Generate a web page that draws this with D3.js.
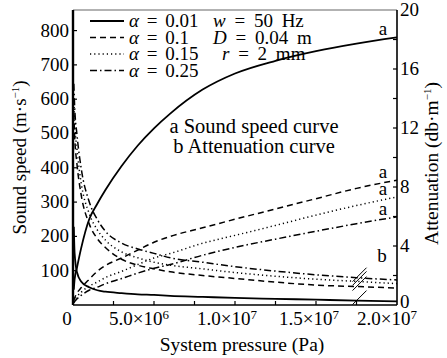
<!DOCTYPE html>
<html>
<head>
<meta charset="utf-8">
<script src="https://cdn.jsdelivr.net/npm/d3@7"></script>
<style>
  body { margin: 0; background: #fff; }
</style>
</head>
<body>
<script>
// pressure in MPa (x axis is drawn in Pa)
const pressure = [0.05, 0.1, 0.25, 0.5, 1, 1.5, 2, 3, 4, 5, 6, 8, 10, 12.5, 15, 17.5, 20];

// a: sound speed (m/s), left axis
const speed001 = [45, 75, 110, 165, 250, 295, 335, 405, 465, 515, 558, 628, 675, 712, 740, 762, 780];
const speed010 = [12, 20, 35, 50, 75, 98, 115, 137, 160, 183, 200, 225, 250, 280, 310, 340, 364];
const speed015 = [8, 14, 25, 37, 55, 67, 80, 98, 118, 137, 150, 180, 203, 232, 262, 290, 315];
const speed025 = [6, 10, 18, 28, 43, 52, 62, 77, 93, 107, 118, 145, 168, 192, 215, 237, 257];

// b: attenuation (db/m), right axis
const atten001 = [5.3, 3.5, 2.2, 1.6, 1.2, 1.0, 0.9, 0.8, 0.72, 0.68, 0.62, 0.55, 0.48, 0.42, 0.36, 0.3, 0.25];
const atten010 = [13, 11.5, 9.5, 7.5, 5.5, 4.5, 3.9, 3.1, 2.7, 2.45, 2.25, 2.0, 1.8, 1.55, 1.35, 1.25, 1.15];
const atten015 = [14, 12.5, 10.5, 8.3, 6.2, 5.1, 4.4, 3.6, 3.2, 2.9, 2.7, 2.45, 2.2, 1.95, 1.75, 1.6, 1.45];
const atten025 = [15, 13.5, 11.5, 9.3, 7, 5.8, 5.0, 4.2, 3.8, 3.5, 3.2, 2.9, 2.6, 2.3, 2.05, 1.85, 1.7];

const alphas = ["0.01", "0.1", "0.15", "0.25"];
const params = [["w", "= 50 Hz"], ["D", "= 0.04 m"], ["r", "= 2 mm"]];
const xTicks = [0, 5e6, 1e7, 1.5e7, 2e7];
const xTickLabels = [["0", ""], ["5.0×10", "6"], ["1.0×10", "7"], ["1.5×10", "7"], ["2.0×10", "7"]];
const leftTicks = [100, 200, 300, 400, 500, 600, 700, 800];
const rightTicks = [0, 4, 8, 12, 16, 20];

const W = 447, H = 358;
const m = { left: 73, right: 50, top: 10, bottom: 53 };
const FONT = "'Liberation Serif', 'Times New Roman', serif";

const x = d3.scaleLinear().domain([0, 2e7]).range([m.left, W - m.right]);
const yL = d3.scaleLinear().domain([0, 860]).range([H - m.bottom, m.top]);
const yR = d3.scaleLinear().domain([0, 20]).range([H - m.bottom, m.top]);

const dashes = [null, "6,4", "1.2,3", "7,3,1.5,3"];

const svg = d3.select("body").append("svg")
  .attr("width", W)
  .attr("height", H)
  .attr("font-family", FONT)
  .style("display", "block");

svg.append("clipPath").attr("id", "plot")
  .append("rect")
  .attr("x", m.left).attr("y", m.top)
  .attr("width", W - m.left - m.right)
  .attr("height", H - m.top - m.bottom);

const g = svg.append("g").attr("clip-path", "url(#plot)");

const lineL = d3.line().curve(d3.curveMonotoneX)
  .x((d, i) => x(pressure[i] * 1e6)).y(d => yL(d));
const lineR = d3.line().curve(d3.curveMonotoneX)
  .x((d, i) => x(pressure[i] * 1e6)).y(d => yR(d));

const speeds = [speed001, speed010, speed015, speed025];
const attens = [atten001, atten010, atten015, atten025];

speeds.forEach((s, i) => {
  g.append("path").attr("d", lineL(s))
    .attr("fill", "none").attr("stroke", "#000")
    .attr("stroke-width", i == 0 ? 1.8 : 1.5)
    .attr("stroke-dasharray", dashes[i]);
});
attens.forEach((s, i) => {
  g.append("path").attr("d", lineR(s))
    .attr("fill", "none").attr("stroke", "#000")
    .attr("stroke-width", i == 0 ? 1.8 : 1.5)
    .attr("stroke-dasharray", dashes[i]);
});

// little hatch of leaders from the b label to the b curves
const k = pressure.length - 2;
attens.forEach(s => {
  const px = x(pressure[k] * 1e6), py = yR(s[k]);
  svg.append("line")
    .attr("x1", px - 4).attr("y1", py + 4).attr("x2", px + 10).attr("y2", py - 10)
    .attr("stroke", "#000").attr("stroke-width", 1);
});

// frame
const x0 = x(0), x1 = x(2e7), y0 = yL(0), y1 = m.top;
svg.append("line").attr("x1", x0).attr("x2", x1).attr("y1", y1).attr("y2", y1)
  .attr("stroke", "#666").attr("stroke-width", 1.2);
svg.append("line").attr("x1", x0).attr("x2", x1).attr("y1", y0).attr("y2", y0)
  .attr("stroke", "#000").attr("stroke-width", 1.6);
svg.append("line").attr("x1", x0).attr("x2", x0).attr("y1", y1).attr("y2", y0)
  .attr("stroke", "#000").attr("stroke-width", 2.4);
svg.append("line").attr("x1", x1).attr("x2", x1).attr("y1", y1).attr("y2", y0)
  .attr("stroke", "#000").attr("stroke-width", 1.6);

// ticks (inward)
svg.selectAll(".xt").data(d3.range(2.5e6, 2e7, 2.5e6)).join("line")
  .attr("x1", d => x(d)).attr("x2", d => x(d))
  .attr("y1", y0).attr("y2", y0 - 4)
  .attr("stroke", "#000").attr("stroke-width", 1.2);
svg.selectAll(".lt").data(leftTicks).join("line")
  .attr("x1", x0).attr("x2", x0 + 4)
  .attr("y1", d => yL(d)).attr("y2", d => yL(d))
  .attr("stroke", "#000").attr("stroke-width", 1.2);
svg.selectAll(".rt").data(d3.range(2, 20, 2)).join("line")
  .attr("x1", x1).attr("x2", x1 - 4)
  .attr("y1", d => yR(d)).attr("y2", d => yR(d))
  .attr("stroke", "#000").attr("stroke-width", 1.2);

// tick labels
svg.selectAll(".ll").data(leftTicks).join("text")
  .attr("x", x0 - 4).attr("y", d => yL(d) + 6)
  .attr("text-anchor", "end").attr("font-size", 19)
  .text(d => d);
svg.selectAll(".rl").data(rightTicks).join("text")
  .attr("x", x1 + 3).attr("y", d => yR(d) + (d == 0 ? 3 : 6))
  .attr("text-anchor", "start").attr("font-size", 19)
  .text(d => d);
const xShift = [-6, -15, -8, -7, -10];
const xl = svg.selectAll(".xl").data(xTicks).join("text")
  .attr("x", (d, i) => x(d) + xShift[i]).attr("y", y0 + 20)
  .attr("text-anchor", "middle").attr("font-size", 19);
xl.append("tspan").text((d, i) => xTickLabels[i][0]);
xl.append("tspan").attr("dy", -6).attr("font-size", 13).text((d, i) => xTickLabels[i][1]);

// axis titles
svg.append("text")
  .attr("x", (x0 + x1) / 2 + 7).attr("y", H - 7)
  .attr("text-anchor", "middle").attr("font-size", 19.5)
  .text("System pressure (Pa)");

const ylab = svg.append("text")
  .attr("transform", `translate(26,${(y0 + y1) / 2}) rotate(-90)`)
  .attr("text-anchor", "middle").attr("font-size", 19);
ylab.append("tspan").text("Sound speed (m·s");
ylab.append("tspan").attr("dy", -7).attr("font-size", 11).text("−1");
ylab.append("tspan").attr("dy", 7).text(")");

const rlab = svg.append("text")
  .attr("transform", `translate(438,${(y0 + y1) / 2 + 6}) rotate(-90)`)
  .attr("text-anchor", "middle").attr("font-size", 19.5);
rlab.append("tspan").text("Attenuation (db·m");
rlab.append("tspan").attr("dy", -7).attr("font-size", 11).text("−1");
rlab.append("tspan").attr("dy", 7).text(")");

// legend
const lg = svg.append("g").attr("transform", "translate(90,21)");
alphas.forEach((a, i) => {
  lg.append("line")
    .attr("x1", 0).attr("x2", 34).attr("y1", i * 16.5).attr("y2", i * 16.5)
    .attr("stroke", "#000").attr("stroke-width", i == 0 ? 1.8 : 1.5)
    .attr("stroke-dasharray", dashes[i]);
  const t = lg.append("text")
    .attr("x", 39).attr("y", i * 16.5 + 6).attr("font-size", 19)
    .attr("word-spacing", 3);
  t.append("tspan").attr("font-style", "italic").text("α");
  t.append("tspan").text(" = " + a);
});
params.forEach((p, i) => {
  const t = lg.append("text")
    .attr("x", i == 2 ? 132 : 123).attr("y", i * 16.5 + 6).attr("font-size", 19)
    .attr("word-spacing", 4);
  t.append("tspan").attr("font-style", "italic").text(p[0]);
  t.append("tspan").text(" " + p[1]);
});

// annotations
const note = svg.append("text").attr("text-anchor", "middle").attr("font-size", 20.5);
note.append("tspan").attr("x", 254).attr("y", yL(500)).text("a Sound speed curve");
note.append("tspan").attr("x", 254).attr("dy", 20).text("b Attenuation curve");

speeds.forEach(s => {
  svg.append("text")
    .attr("x", x(2e7) - 14).attr("y", yL(s[s.length - 1]) - 2)
    .attr("text-anchor", "middle").attr("font-size", 19)
    .text("a");
});
svg.append("text")
  .attr("x", x(2e7) - 15).attr("y", yR(2.9))
  .attr("text-anchor", "middle").attr("font-size", 19)
  .text("b");
</script>
</body>
</html>
